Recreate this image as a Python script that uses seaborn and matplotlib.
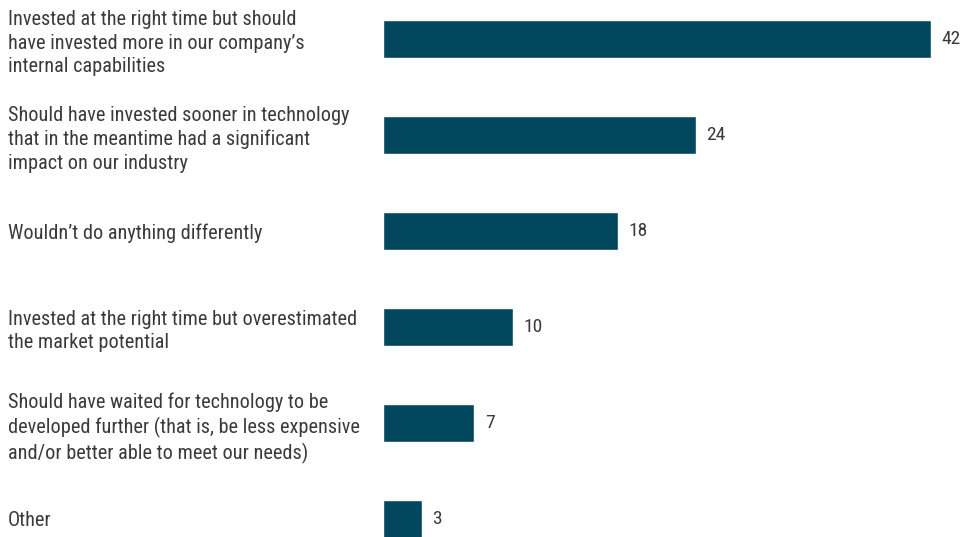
import matplotlib
matplotlib.use("Agg")
import matplotlib.pyplot as plt
import seaborn as sns
import pandas as pd

categories = [
    "Invested at the right time but should\nhave invested more in our company\u2019s\ninternal capabilities",
    "Should have invested sooner in technology\nthat in the meantime had a significant\nimpact on our industry",
    "Wouldn\u2019t do anything differently",
    "Invested at the right time but overestimated\nthe market potential",
    "Should have waited for technology to be\ndeveloped further (that is, be less expensive\nand/or better able to meet our needs)",
    "Other",
]
values = [42, 24, 18, 10, 7, 3]

sns.set_theme(style="white")
plt.rcParams['font.family'] = ['Roboto Condensed', 'Liberation Sans Narrow', 'Liberation Sans', 'DejaVu Sans']

df = pd.DataFrame({"category": categories, "value": values})

W, H = 962, 537
fig = plt.figure(figsize=(W / 100, H / 100), dpi=100)
ax = fig.add_axes([383 / W, 0, (931 - 383) / W, 1])

sns.barplot(data=df, y="category", x="value", orient="h", color="#03475e",
            saturation=1, width=0.406, ax=ax)

ax.set_xlim(0, 42)
ax.set_ylim(5 + (H - 519) / 96, -39 / 96)
ax.set_xlabel("")
ax.set_ylabel("")
ax.set_xticks([])
for s in ax.spines.values():
    s.set_visible(False)

ax.tick_params(axis="y", length=0, pad=(383 - 8) * 72 / 100)
for lab in ax.get_yticklabels():
    lab.set_horizontalalignment("left")
    lab.set_fontsize(14.6)
    lab.set_color("#3a3a3a")
    lab.set_linespacing(1.3)

for cont in ax.containers:
    ax.bar_label(cont, padding=7.5, fontsize=14, color="#3a3a3a")

fig.savefig("out.png", dpi=100)
